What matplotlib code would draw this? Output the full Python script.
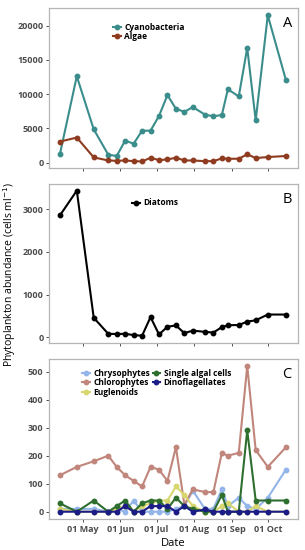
import numpy as np
import pandas as pd
import matplotlib
matplotlib.use("Agg")
from matplotlib import pyplot as plt
import matplotlib.dates as mdates

plt.rcParams['font.family'] = ['Open Sans', 'DejaVu Sans']

# sampling dates
dates = pd.to_datetime(['2019-04-12', '2019-04-26', '2019-05-10', '2019-05-22', '2019-05-29',
                        '2019-06-05', '2019-06-12', '2019-06-19', '2019-06-26', '2019-07-03',
                        '2019-07-10', '2019-07-17', '2019-07-24', '2019-07-31', '2019-08-10',
                        '2019-08-17', '2019-08-24', '2019-08-29', '2019-09-07', '2019-09-14',
                        '2019-09-21', '2019-10-01', '2019-10-16'])

# panel A
cyanobacteria = [1200, 12600, 4850, 1150, 950, 3200, 2750, 4650, 4650, 6800, 9850, 7850,
                 7400, 8100, 7000, 6750, 6950, 10700, 9650, 16750, 6150, 21500, 12050]
algae = [3050, 3650, 750, 300, 250, 300, 200, 150, 700, 350, 450, 700,
         300, 300, 200, 200, 600, 550, 550, 1200, 650, 800, 950]

# panel B
diatoms = [2850, 3430, 460, 85, 80, 85, 55, 40, 475, 70, 250, 280,
           100, 160, 130, 115, 240, 285, 290, 370, 400, 535, 535]

# panel C
chrysophytes = [10, 10, 10, 0, 10, 0, 40, 0, 0, 0, 0, 10,
                20, 75, 10, 10, 80, 20, 50, 20, 10, 50, 150]
chlorophytes = [130, 160, 180, 200, 160, 130, 110, 90, 160, 150, 110, 230,
                25, 80, 70, 70, 210, 200, 210, 520, 220, 160, 230]
euglenoids = [10, 0, 0, 0, 10, 20, 0, 20, 30, 40, 40, 90,
              60, 20, 0, 0, 20, 30, 0, 0, 20, 0, 0]
single_algal = [30, 0, 40, 0, 20, 40, 0, 30, 40, 40, 10, 50,
                20, 10, 0, 0, 60, 0, 0, 290, 40, 40, 40]
dinoflagellates = [0, 0, 0, 0, 0, 20, 0, 0, 20, 20, 20, 0,
                   20, 0, 8, 0, 0, 0, 0, 0, 0, 0, 0]

W, H = 305, 550
fig = plt.figure(figsize=(W / 100, H / 100), dpi=100)
fig.patch.set_facecolor('white')

tickColor = '#4d4d4d'
frameColor = '#b5b5b5'


def panel(top, bottom, label):
  ax = fig.add_axes([49 / W, 1 - bottom / H, 249 / W, (bottom - top) / H])
  for s in ax.spines.values():
    s.set_color(frameColor)
    s.set_linewidth(0.9)
  ax.tick_params(colors=tickColor, labelsize=6.5, length=2.5, width=0.7, pad=1.5)
  ax.set_xlim(pd.Timestamp('2019-04-03'), pd.Timestamp('2019-10-26'))
  ax.xaxis.set_major_locator(mdates.MonthLocator(bymonth=range(5, 11)))
  ax.xaxis.set_major_formatter(mdates.DateFormatter('%d %b'))
  ax.text(0.975, 0.95, label, transform=ax.transAxes, ha='right', va='top', fontsize=10.5)
  return ax


def series(ax, y, color, name):
  ax.plot(dates, y, color=color, lw=1.5, marker='o', ms=3.2, label=name)


def legend(ax, x, y, ncol=1):
  lg = ax.legend(loc='upper left', bbox_to_anchor=(x, y), frameon=False, ncol=ncol,
                 handlelength=0.9, handletextpad=0.4, labelspacing=0.05, columnspacing=0.35,
                 borderaxespad=0, prop={'size': 6, 'weight': 'bold'})
  return lg


def boldTicks(ax):
  for t in ax.get_yticklabels() + ax.get_xticklabels():
    t.set_fontweight('bold')


axA = panel(8, 168, 'A')
series(axA, cyanobacteria, '#3b8d8c', 'Cyanobacteria')
series(axA, algae, '#8e3b1f', 'Algae')
axA.set_ylim(-800, 22570)
axA.set_yticks([0, 5000, 10000, 15000, 20000])
axA.set_xticklabels([])
boldTicks(axA)
legend(axA, 0.245, 0.93)

axB = panel(184, 343, 'B')
series(axB, diatoms, 'black', 'Diatoms')
axB.set_ylim(-130, 3585)
axB.set_yticks([0, 1000, 2000, 3000])
axB.set_xticklabels([])
boldTicks(axB)
legend(axB, 0.32, 0.93)

axC = panel(359, 519, 'C')
series(axC, chrysophytes, '#93b5ea', 'Chrysophytes')
series(axC, chlorophytes, '#c0857b', 'Chlorophytes')
series(axC, euglenoids, '#d8d66f', 'Euglenoids')
series(axC, single_algal, '#2e6e2e', 'Single algal cells')
series(axC, dinoflagellates, '#1c1c86', 'Dinoflagellates')
axC.set_ylim(-26, 545)
axC.set_yticks([0, 100, 200, 300, 400, 500])
boldTicks(axC)
legend(axC, 0.12, 0.96, ncol=2)
axC.set_xlabel('Date', fontsize=8, labelpad=3)

fig.text(10 / W, 0.5, 'Phytoplankton abundance (cells ml$^{-1}$)', rotation=90,
         ha='center', va='center', fontsize=7.5)

fig.savefig('out.png', dpi=100)
